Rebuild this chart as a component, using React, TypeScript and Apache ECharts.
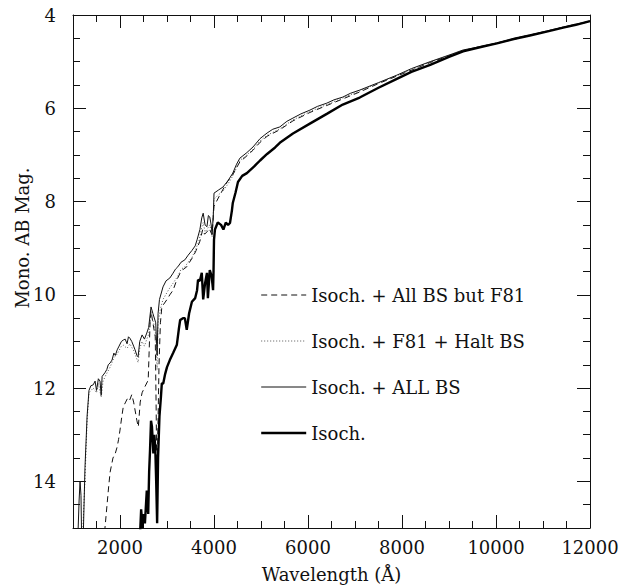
import React, { useEffect, useRef } from "react";
import * as echarts from "echarts";

const xMajorTicks = [2000, 4000, 6000, 8000, 10000, 12000];
const yMajorTicks = [4, 6, 8, 10, 12, 14];

const seriesNames = [
  "Isoch. + All BS but F81",
  "Isoch. + F81 + Halt BS",
  "Isoch. + ALL BS",
  "Isoch.",
];

const allButF81: number[][] = [
  [1650, 15.3], [1680, 15.0], [1720, 14.55], [1760, 14.1], [1790, 13.8], [1820, 13.65],
  [1850, 13.5], [1900, 13.4], [1940, 13.26], [1970, 13.1], [2000, 12.9], [2040, 12.6],
  [2070, 12.4], [2120, 12.3], [2170, 12.2], [2210, 12.25], [2250, 12.14], [2290, 12.3],
  [2320, 12.47], [2360, 12.7], [2390, 12.83], [2430, 12.3], [2470, 12.1], [2530, 11.97],
  [2600, 11.83], [2640, 10.6], [2660, 10.35], [2700, 10.6], [2750, 10.9], [2770, 12.5],
  [2790, 14.6], [2805, 13.0], [2830, 11.5], [2860, 10.6], [2890, 10.26], [3000, 10.1],
  [3060, 10.0], [3130, 9.9], [3200, 9.7], [3280, 9.53], [3350, 9.45], [3420, 9.4],
  [3480, 9.3], [3550, 9.19], [3620, 9.05], [3700, 8.85], [3760, 8.6], [3800, 8.7],
  [3850, 8.65], [3900, 8.58], [3960, 8.72], [4000, 8.1], [4130, 7.85], [4280, 7.58],
  [4400, 7.42], [4550, 7.15], [4700, 7.02], [4830, 6.9], [4980, 6.73], [5130, 6.6],
  [5400, 6.46], [5680, 6.27], [6040, 6.09], [6400, 5.94], [6740, 5.8], [7100, 5.65],
  [7500, 5.47], [7890, 5.31], [8600, 5.02], [9300, 4.77], [10020, 4.61], [10720, 4.44],
  [11430, 4.27], [12000, 4.14],
];

const f81Halt: number[][] = [
  [1200, 15.3], [1260, 13.8], [1300, 12.7], [1340, 12.1], [1430, 12.0], [1500, 12.1],
  [1540, 11.9], [1600, 12.2], [1640, 11.85], [1700, 11.72], [1790, 11.55], [1870, 11.35],
  [1940, 11.27], [2030, 11.1], [2070, 11.08], [2150, 11.15], [2210, 11.05], [2290, 11.2],
  [2330, 11.3], [2385, 11.45], [2420, 11.15], [2470, 11.0], [2520, 11.1], [2570, 10.95],
  [2610, 10.85], [2660, 10.4], [2700, 10.55], [2750, 10.75], [2790, 11.6], [2810, 10.6],
  [2860, 10.3], [2915, 10.1], [3000, 9.95], [3060, 9.85], [3130, 9.75], [3230, 9.6],
  [3300, 9.45], [3380, 9.4], [3450, 9.3], [3530, 9.2], [3600, 9.05], [3680, 8.85],
  [3740, 8.55], [3770, 8.45], [3810, 8.65], [3850, 8.6], [3910, 8.5], [3960, 8.75],
  [4000, 7.95], [4100, 7.85], [4190, 7.78], [4300, 7.62], [4400, 7.45], [4550, 7.12],
  [4700, 7.0], [4830, 6.88], [4980, 6.7], [5130, 6.58], [5400, 6.44], [5680, 6.25],
  [6040, 6.07], [6400, 5.92], [6740, 5.78], [7100, 5.63], [7500, 5.46], [7890, 5.3],
  [8600, 5.01], [9300, 4.76], [10020, 4.6], [10720, 4.43], [11430, 4.26], [12000, 4.13],
];

const allBS: number[][] = [
  [1100, 15.3], [1130, 14.4], [1150, 14.0], [1170, 14.3], [1185, 15.3], [1215, 15.3],
  [1255, 13.7], [1300, 12.6], [1340, 12.05], [1380, 11.95], [1430, 11.93], [1470, 11.85],
  [1500, 12.05], [1540, 11.8], [1575, 11.85], [1600, 12.15], [1620, 11.75], [1680, 11.67],
  [1720, 11.6], [1750, 11.5], [1790, 11.46], [1830, 11.4], [1870, 11.25], [1900, 11.3],
  [1940, 11.18], [1980, 11.1], [2030, 11.0], [2070, 10.97], [2110, 10.95], [2150, 11.05],
  [2180, 10.9], [2210, 10.93], [2250, 11.0], [2290, 11.1], [2320, 11.18], [2360, 11.3],
  [2385, 11.33], [2420, 11.0], [2470, 10.86], [2520, 10.95], [2570, 10.82], [2610, 10.7],
  [2660, 10.26], [2700, 10.4], [2760, 10.6], [2790, 11.3], [2810, 10.4], [2840, 10.1],
  [2915, 9.83], [2980, 9.7], [3060, 9.64], [3120, 9.55], [3180, 9.45], [3230, 9.4],
  [3300, 9.3], [3380, 9.25], [3450, 9.15], [3530, 9.05], [3600, 8.95], [3640, 8.82],
  [3700, 8.6], [3740, 8.35], [3770, 8.25], [3810, 8.5], [3850, 8.54], [3880, 8.3],
  [3910, 8.33], [3940, 8.5], [3960, 8.7], [3985, 8.3], [4000, 7.82], [4100, 7.75],
  [4190, 7.69], [4300, 7.55], [4400, 7.39], [4480, 7.2], [4550, 7.07], [4700, 6.95],
  [4830, 6.83], [4980, 6.65], [5130, 6.53], [5250, 6.45], [5400, 6.4], [5550, 6.28],
  [5680, 6.21], [5850, 6.12], [6040, 6.04], [6200, 5.96], [6400, 5.89], [6550, 5.82],
  [6740, 5.76], [6900, 5.68], [7100, 5.61], [7500, 5.45], [7890, 5.29], [8200, 5.15],
  [8600, 5.0], [9000, 4.86], [9300, 4.75], [9700, 4.67], [10020, 4.6], [10400, 4.5],
  [10720, 4.43], [11100, 4.34], [11430, 4.26], [11700, 4.2], [12000, 4.13],
];

const isoch: number[][] = [
  [2420, 15.3], [2450, 14.6], [2480, 15.0], [2500, 14.7], [2530, 14.9], [2570, 14.2],
  [2600, 14.7], [2620, 13.8], [2640, 13.3], [2660, 12.7], [2680, 12.83], [2710, 13.4],
  [2730, 13.0], [2750, 13.26], [2770, 14.0], [2790, 14.9], [2810, 13.5], [2840, 12.6],
  [2870, 12.2], [2890, 11.9], [2920, 11.9], [2960, 11.7], [3000, 11.55], [3060, 11.4],
  [3130, 11.25], [3210, 11.07], [3250, 10.75], [3280, 10.54], [3340, 10.5], [3380, 10.5],
  [3420, 10.75], [3470, 10.4], [3530, 10.15], [3600, 10.07], [3640, 9.9], [3660, 9.68],
  [3700, 9.7], [3740, 9.53], [3770, 10.1], [3810, 9.75], [3850, 9.53], [3870, 10.07],
  [3910, 9.47], [3950, 9.6], [3980, 9.9], [3990, 9.5], [4000, 8.82], [4020, 8.6],
  [4080, 8.45], [4150, 8.5], [4200, 8.6], [4250, 8.45], [4300, 8.5], [4340, 8.46],
  [4380, 8.2], [4400, 8.03], [4460, 7.8], [4510, 7.58], [4600, 7.45], [4700, 7.39],
  [4850, 7.25], [4980, 7.12], [5130, 6.98], [5300, 6.84], [5400, 6.74], [5680, 6.54],
  [6040, 6.33], [6400, 6.12], [6740, 5.92], [7100, 5.77], [7500, 5.56], [7890, 5.37],
  [8200, 5.22], [8600, 5.07], [9000, 4.9], [9300, 4.78], [9700, 4.68], [10020, 4.61],
  [10400, 4.51], [10720, 4.44], [11100, 4.35], [11430, 4.27], [11700, 4.21], [12000, 4.13],
];

const FONT = "DejaVu Serif";
const INK = "#111";

export default function App() {
  const ref = useRef<HTMLDivElement>(null);

  useEffect(() => {
    if (!ref.current) return;
    const chart = echarts.init(ref.current, undefined, { renderer: "svg" });

    const xBase = {
      type: "value" as const,
      min: 1000,
      max: 12000,
      splitLine: { show: false },
    };
    const yBase = {
      type: "value" as const,
      min: 4,
      max: 15,
      inverse: true,
      splitLine: { show: false },
    };
    const shortTick = { show: true, inside: true, length: 7, lineStyle: { color: INK, width: 1 } };
    const longTick = (vals: number[]) => ({
      show: true,
      inside: true,
      length: 13,
      customValues: vals,
      lineStyle: { color: INK, width: 1 },
    });
    const axisLine = { show: true, lineStyle: { color: INK, width: 1 } };
    const plain = (v: number) => String(v);

    const legendStyles = [
      { color: INK, width: 1, type: [6, 4] },
      { color: "#555", width: 1, type: [1, 2] },
      { color: INK, width: 1, type: "solid" },
      { color: "#000", width: 2.4, type: "solid" },
    ];

    chart.setOption({
      animation: false,
      backgroundColor: "#fff",
      grid: {
        left: 73,
        right: 33,
        top: 15,
        bottom: 57,
        containLabel: false,
        outerBoundsMode: "none",
      },
      legend: {
        data: seriesNames.map((n, i) => ({ name: n, lineStyle: legendStyles[i] })),
        orient: "vertical",
        left: 260,
        top: 285,
        itemWidth: 45,
        itemHeight: 20,
        itemGap: 26,
        padding: 0,
        selectedMode: false,
        itemStyle: { opacity: 0 },
        textStyle: { fontFamily: FONT, fontSize: 18, color: INK, lineHeight: 20 },
      },
      xAxis: [
        {
          ...xBase,
          position: "bottom",
          interval: 500,
          axisLine,
          axisTick: shortTick,
          axisLabel: { show: false },
        },
        {
          ...xBase,
          position: "bottom",
          axisLine: { show: false },
          axisTick: longTick(xMajorTicks),
          axisLabel: {
            show: true,
            customValues: xMajorTicks,
            formatter: plain,
            margin: 10,
            fontFamily: FONT,
            fontSize: 18,
            color: INK,
          },
          name: "Wavelength (Å)",
          nameLocation: "middle",
          nameGap: 37,
          nameTextStyle: { fontFamily: FONT, fontSize: 18, color: INK },
        },
        {
          ...xBase,
          position: "top",
          interval: 500,
          axisLine,
          axisTick: shortTick,
          axisLabel: { show: false },
        },
        {
          ...xBase,
          position: "top",
          axisLine: { show: false },
          axisTick: longTick(xMajorTicks),
          axisLabel: { show: false },
        },
      ],
      yAxis: [
        {
          ...yBase,
          position: "left",
          interval: 0.5,
          axisLine,
          axisTick: shortTick,
          axisLabel: { show: false },
        },
        {
          ...yBase,
          position: "left",
          axisLine: { show: false },
          axisTick: longTick(yMajorTicks),
          axisLabel: {
            show: true,
            customValues: yMajorTicks,
            formatter: plain,
            margin: 17,
            fontFamily: FONT,
            fontSize: 18,
            color: INK,
          },
        },
        {
          ...yBase,
          position: "right",
          interval: 0.5,
          axisLine,
          axisTick: shortTick,
          axisLabel: { show: false },
        },
        {
          ...yBase,
          position: "right",
          axisLine: { show: false },
          axisTick: longTick(yMajorTicks),
          axisLabel: { show: false },
        },
      ],
      graphic: [
        {
          type: "text",
          x: 22,
          y: 238,
          rotation: Math.PI / 2,
          style: {
            text: "Mono. AB Mag.",
            fontFamily: FONT,
            fontSize: 18,
            fill: INK,
            align: "center",
            verticalAlign: "middle",
          },
        },
      ],
      series: [
        {
          name: seriesNames[0],
          type: "line",
          data: allButF81,
          symbol: "none",
          itemStyle: { color: INK },
          lineStyle: { color: INK, width: 1, type: [6, 4] },
        },
        {
          name: seriesNames[1],
          type: "line",
          data: f81Halt,
          symbol: "none",
          itemStyle: { color: "#555" },
          lineStyle: { color: "#555", width: 1, type: [1, 2] },
        },
        {
          name: seriesNames[2],
          type: "line",
          data: allBS,
          symbol: "none",
          itemStyle: { color: INK },
          lineStyle: { color: INK, width: 1 },
        },
        {
          name: seriesNames[3],
          type: "line",
          data: isoch,
          symbol: "none",
          itemStyle: { color: "#000" },
          lineStyle: { color: "#000", width: 2.4 },
        },
      ],
    });

    return () => chart.dispose();
  }, []);

  return (
    <div
      ref={ref}
      style={{ position: "absolute", left: 0, top: 0, width: 623, height: 585 }}
    />
  );
}
